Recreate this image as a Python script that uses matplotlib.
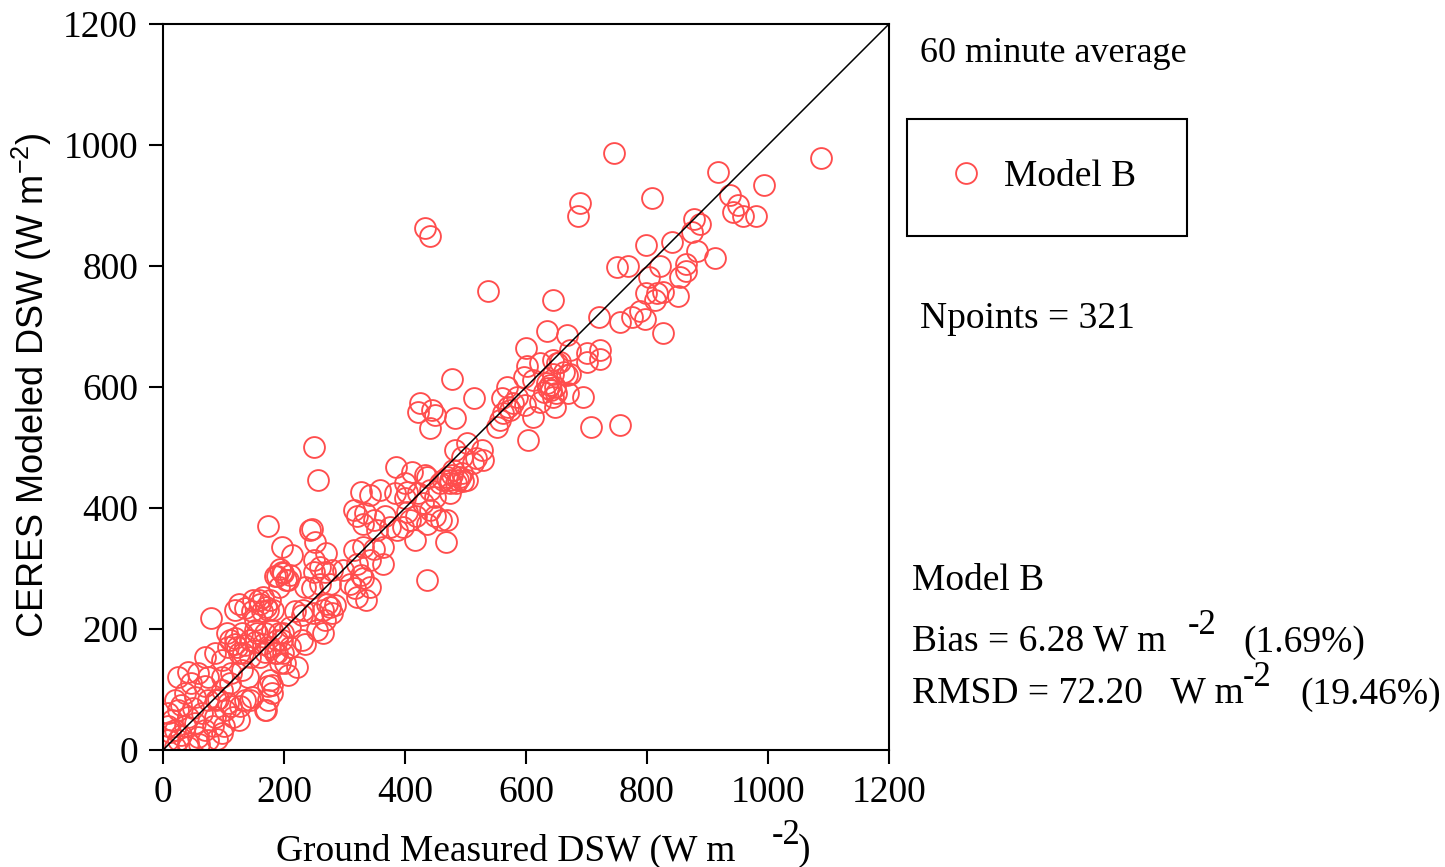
import matplotlib
matplotlib.use("Agg")
import matplotlib.pyplot as plt

# ------------------ DATA ------------------
ground = [1087, 745, 917, 994, 689, 686, 809, 937, 950, 942, 959, 980, 877, 888, 874, 841, 798, 882, 913, 821,
          865, 865, 855, 750, 768, 803, 799, 816, 827, 852, 813, 788, 755, 775, 797, 720, 827, 667, 645, 635,
          673, 700, 722, 722, 700, 651, 662, 645, 673, 537, 433, 441, 600, 645, 656, 667, 634, 637, 642, 648,
          629, 645, 670, 695, 648, 612, 623, 601, 596, 623, 612, 707, 756, 603, 477, 514, 425, 422, 444, 450,
          483, 441, 568, 560, 570, 562, 557, 552, 574, 579, 598, 585, 527, 502, 483, 494, 518, 529, 512, 480,
          491, 502, 474, 485, 469, 463, 458, 411, 436, 400, 441, 422, 403, 249, 257, 173, 385, 433, 328, 342,
          359, 383, 400, 315, 320, 334, 331, 348, 367, 353, 375, 386, 397, 408, 419, 430, 441, 450, 474, 496,
          474, 460, 469, 450, 436, 403, 417, 467, 243, 251, 196, 213, 270, 260, 193, 210, 315, 331, 348, 364,
          320, 342, 364, 328, 298, 436, 246, 188, 204, 199, 268, 279, 246, 260, 276, 80, 125, 136, 149, 160,
          171, 166, 177, 182, 105, 111, 122, 133, 144, 155, 166, 177, 188, 199, 210, 144, 160, 188, 199, 210,
          232, 248, 265, 276, 284, 271, 279, 268, 254, 265, 235, 309, 317, 331, 342, 320, 336, 180, 177, 180,
          171, 144, 127, 116, 97, 88, 69, 86, 97, 108, 125, 136, 119, 152, 169, 185, 193, 25, 42, 58,
          75, 97, 113, 130, 47, 69, 20, 36, 53, 75, 91, 108, 136, 147, 174, 174, 169, 9, 25, 42,
          64, 86, 102, 113, 125, 9, 20, 36, 53, 69, 83, 97, 9, 25, 42, 58, 75, 89, 42, 20,
          185, 196, 207, 191, 119, 147, 158, 174, 163, 152, 218, 229, 235, 249, 249, 119, 130, 152, 169, 180,
          191, 196, 229, 202, 221, 207, 30, 15, 60, 50, 100, 110, 30, 488, 478, 495, 640, 650, 12, 140]
model = [979, 987, 956, 934, 904, 883, 913, 917, 901, 890, 882, 882, 877, 870, 857, 840, 834, 824, 814, 800,
         804, 792, 782, 799, 800, 782, 755, 755, 757, 751, 744, 725, 708, 716, 713, 716, 689, 686, 744, 693,
         661, 656, 661, 647, 642, 639, 625, 622, 622, 758, 863, 850, 665, 645, 642, 620, 606, 598, 595, 600,
         592, 584, 590, 584, 567, 551, 576, 634, 617, 639, 612, 534, 537, 512, 614, 582, 573, 559, 562, 554,
         548, 532, 600, 581, 567, 557, 545, 534, 562, 573, 570, 584, 496, 507, 496, 485, 482, 479, 474, 463,
         452, 446, 441, 441, 452, 446, 441, 460, 452, 441, 430, 424, 427, 501, 447, 371, 468, 455, 427, 421,
         430, 424, 416, 397, 386, 391, 374, 380, 386, 364, 369, 364, 369, 380, 386, 408, 397, 419, 446, 444,
         424, 380, 380, 386, 374, 394, 347, 344, 364, 344, 336, 322, 325, 303, 300, 289, 331, 336, 333, 336,
         308, 314, 308, 289, 298, 281, 366, 287, 281, 292, 295, 298, 267, 275, 275, 218, 242, 234, 248, 242,
         237, 253, 248, 231, 193, 182, 171, 160, 182, 193, 176, 171, 182, 193, 204, 154, 154, 160, 160, 171,
         231, 226, 231, 237, 240, 242, 226, 215, 198, 193, 176, 275, 267, 284, 270, 253, 248, 107, 116, 94,
         66, 83, 72, 55, 99, 83, 154, 160, 149, 171, 160, 174, 176, 179, 162, 160, 143, 121, 129, 127,
         121, 121, 127, 132, 110, 105, 83, 94, 88, 83, 85, 77, 83, 88, 105, 83, 66, 61, 66, 55,
         61, 55, 66, 72, 50, 39, 33, 39, 44, 33, 39, 28, 17, 17, 11, 22, 17, 19, 5, 5,
         287, 295, 281, 270, 231, 229, 248, 231, 229, 215, 229, 223, 270, 295, 314, 185, 193, 198, 193, 198,
         193, 182, 182, 144, 138, 124, 25, 50, 10, 70, 40, 110, 75, 447, 455, 458, 603, 590, 30, 120]

ticks = [0, 200, 400, 600, 800, 1000, 1200]

# ------------------ STYLE ------------------
W, H = 1445, 867
def fx(x): return x / W
def fy(y): return 1 - y / H

plt.rcParams['font.family'] = 'Liberation Serif'
plt.rcParams['mathtext.fontset'] = 'custom'
plt.rcParams['mathtext.rm'] = 'Liberation Sans'
plt.rcParams['mathtext.it'] = 'Liberation Sans:italic'
red = '#ff4d4d'
fs = 27

fig = plt.figure(figsize=(14.45, 8.67), dpi=100)
ax = fig.add_axes([fx(163), fy(750), 726 / W, 726 / H])

ax.plot(ground, model, 'o', ms=15, mfc='none', mec=red, mew=1.35, label='Model B ')
ax.plot([0, 1200], [0, 1200], color='black', lw=1.1)

ax.set_xlim(0, 1200)
ax.set_ylim(0, 1200)
ax.set_xticks(ticks)
ax.set_yticks(ticks)
ax.tick_params(direction='out', length=10, width=1.5, labelsize=fs, pad=8, top=False, right=False)
for s in ax.spines.values():
    s.set_linewidth(1.5)

leg = ax.legend(loc='center', bbox_to_anchor=(fx(1047), fy(177)), bbox_transform=fig.transFigure,
                fancybox=False, edgecolor='black', framealpha=1, fontsize=fs, numpoints=1,
                borderpad=1.1, handlelength=0.9, handletextpad=0.57)
leg.get_frame().set_linewidth(1.5)

# ------------------ LABELS / ANNOTATIONS ------------------
fig.text(fx(276), fy(851), 'Ground Measured DSW (W m', fontsize=fs, va='center')
fig.text(fx(772), fy(835), '-2', fontsize=fs - 2, va='center')
fig.text(fx(798), fy(851), ')', fontsize=fs, va='center')

fig.text(fx(32), fy(385), 'CERES Modeled DSW (W m$^{-2}$)', rotation=90, family='Liberation Sans',
         fontsize=26, ha='center', va='center')

fig.text(fx(920), fy(53), '60 minute average', fontsize=26, va='center')
fig.text(fx(920), fy(319), 'Npoints = 321', fontsize=fs, va='center')
fig.text(fx(912), fy(581), 'Model B', fontsize=fs, va='center')
fig.text(fx(912), fy(641), 'Bias = 6.28 W m', fontsize=fs, va='center')
fig.text(fx(1188), fy(625), '-2', fontsize=fs - 2, va='center')
fig.text(fx(1243), fy(643), '(1.69%)', fontsize=fs, va='center')
fig.text(fx(912), fy(693), 'RMSD = 72.20   W m', fontsize=fs, va='center')
fig.text(fx(1243), fy(677), '-2', fontsize=fs - 2, va='center')
fig.text(fx(1300), fy(695), '(19.46%)', fontsize=fs, va='center')

plt.savefig("out.png", dpi=100)
plt.close()
